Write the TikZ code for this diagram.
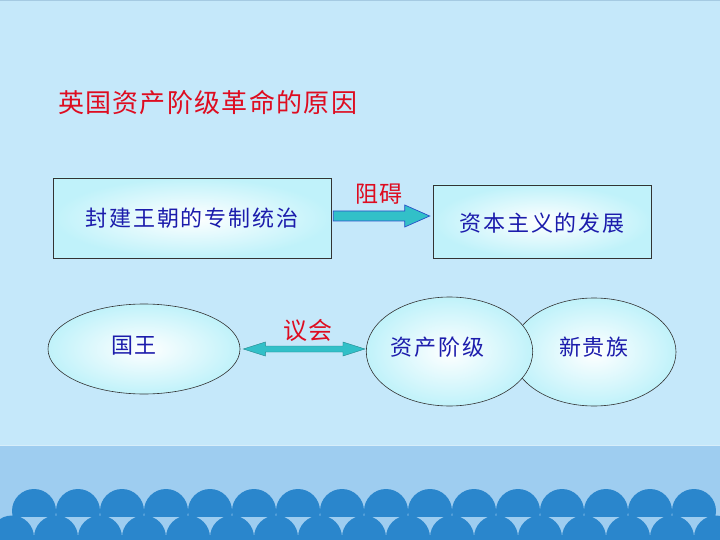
\documentclass[tikz,border=0pt]{standalone}
\usepackage{fontspec}
\newfontfamily\cjk{Noto Sans CJK SC}
\usetikzlibrary{shapes.geometric,calc}
\definecolor{bg}{RGB}{197,232,250}
\definecolor{topline}{RGB}{165,202,226}
\definecolor{band}{RGB}{158,205,240}
\definecolor{bandline}{RGB}{215,238,250}
\definecolor{scal}{RGB}{42,134,204}
\definecolor{tred}{RGB}{222,12,32}
\definecolor{tblue}{RGB}{28,28,172}
\definecolor{fillc}{RGB}{192,242,250}
\definecolor{arrfill}{RGB}{50,192,200}
\definecolor{arrline}{RGB}{40,80,200}
\newlength{\cjsp}
\def\spaced#1{\spacedi#1\relax}
\def\spacedi#1{\ifx#1\relax\unskip\else#1\hspace{\cjsp}\expandafter\spacedi\fi}
\tikzset{
  bodytext/.style={font=\cjk\fontsize{22}{26}\selectfont, text=tblue},
  redtext/.style={font=\cjk\fontsize{23}{27}\selectfont, text=tred},
  boxnode/.style={draw=black!80, line width=0.6pt, rectangle, inner sep=0pt,
    shading=radial, inner color=white, outer color=fillc},
  ellnode/.style={draw=black!80, line width=0.6pt, ellipse, inner sep=0pt,
    shading=radial, inner color=white, outer color=fillc},
  blockarrow/.style={fill=arrfill, draw=arrline, line width=0.7pt, line join=miter},
}
\begin{document}
\begin{tikzpicture}[x=1pt,y=-1pt]
\useasboundingbox (0,0) rectangle (720,540);
\begin{scope}
\clip (0,0) rectangle (720,540);
\fill[bg] (0,0) rectangle (720,540);
\fill[topline] (0,0) rectangle (720,1.5);
\fill[band] (0,446) rectangle (720,540);
\fill[bandline] (0,444.5) rectangle (720,446);
\begin{scope}
\clip (0,0) rectangle (720,516);
\foreach \i in {0,...,15} \fill[scal] (34+44*\i,511) circle[radius=22pt];
\end{scope}
\foreach \i in {0,...,16} \fill[scal] (12+44*\i,537.5) circle[radius=22pt];
\end{scope}

% title
\node[font=\cjk\fontsize{26}{30}\selectfont, text=tred] (title) at (207.5,103)
  {\setlength{\cjsp}{1.3pt}\spaced{英国资产阶级革命的原因}};

% boxes
\node[boxnode, minimum width=278pt, minimum height=80pt, bodytext] (b1) at (192,218)
  {\setlength{\cjsp}{1.9pt}\spaced{封建王朝的专制统治}};
\node[boxnode, minimum width=218pt, minimum height=73pt, bodytext] (b2) at (542,221.5)
  {\raisebox{-1.5pt}[\height][\depth]{\setlength{\cjsp}{1.9pt}\spaced{资本主义的发展}}};

% ellipses
\node[ellnode, minimum width=164pt, minimum height=108pt, bodytext] (e3) at (594,352)
  {\raisebox{5pt}[\height][\depth]{\setlength{\cjsp}{1.9pt}\spaced{新贵族}}};
\node[ellnode, minimum width=165pt, minimum height=109pt, bodytext] (e2) at (449.5,351.5)
  {\raisebox{4pt}[\height][\depth]{\setlength{\cjsp}{1.9pt}\spaced{资产阶级}}\hspace*{24pt}};
\node[ellnode, minimum width=192pt, minimum height=90pt, bodytext] (e1) at (144,349)
  {\raisebox{3pt}[\height][\depth]{\setlength{\cjsp}{1.9pt}\spaced{国王}}\hspace*{20pt}};

% arrow 1
\coordinate (a1s) at ($(b1.east)+(2,-2)$);
\coordinate (a1e) at ($(a1s -| b2.west)+(-3,0)$);
\filldraw[blockarrow] ($(a1s)+(0,-5)$) -- ($(a1e)+(-25,-5)$) -- ($(a1e)+(-25,-11)$)
  -- (a1e) -- ($(a1e)+(-25,11)$) -- ($(a1e)+(-25,5)$) -- ($(a1s)+(0,5)$) -- cycle;
\node[redtext] (l1) at (379,194) {\setlength{\cjsp}{1pt}\spaced{阻碍}};

% arrow 2 (double)
\coordinate (a2s) at ($(e1.east)+(3,0)$);
\coordinate (a2e) at ($(a2s -| e2.west)+(-1,0)$);
\filldraw[blockarrow, draw=arrfill!70!black, line width=0.4pt] (a2s)
  -- ($(a2s)+(22,-7)$) -- ($(a2s)+(22,-3)$) -- ($(a2e)+(-22,-3)$) -- ($(a2e)+(-22,-7)$)
  -- (a2e) -- ($(a2e)+(-22,7)$) -- ($(a2e)+(-22,3)$) -- ($(a2s)+(22,3)$) -- ($(a2s)+(22,7)$) -- cycle;
\node[redtext, font=\cjk\fontsize{24}{28}\selectfont] (l2) at (308,330) {\setlength{\cjsp}{2pt}\spaced{议会}};
\end{tikzpicture}
\end{document}
